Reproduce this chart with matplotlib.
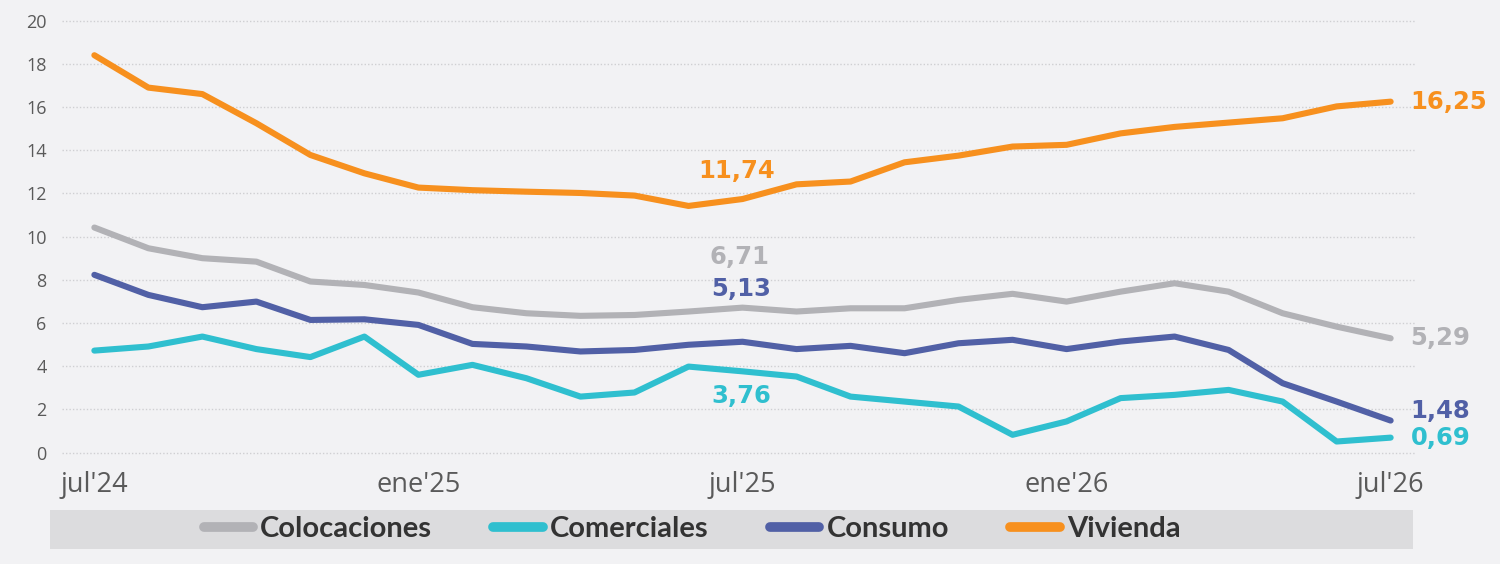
import matplotlib
matplotlib.use("Agg")
import matplotlib.pyplot as plt
from matplotlib.patches import Rectangle

months = list(range(25))
tick_pos = [0, 6, 12, 18, 24]
tick_labels = ["jul'24", "ene'25", "jul'25", "ene'26", "jul'26"]

colocaciones = [10.42, 9.46, 9.0, 8.84, 7.92, 7.76, 7.41, 6.73, 6.45, 6.33, 6.37, 6.53,
                6.71, 6.53, 6.68, 6.68, 7.07, 7.35, 6.99, 7.45, 7.84, 7.45, 6.45, 5.83, 5.29]
comerciales = [4.72, 4.91, 5.37, 4.79, 4.42, 5.37, 3.6, 4.06, 3.44, 2.59, 2.78, 3.98,
               3.76, 3.52, 2.59, 2.36, 2.13, 0.82, 1.44, 2.52, 2.67, 2.9, 2.36, 0.51, 0.69]
consumo = [8.23, 7.3, 6.73, 6.99, 6.14, 6.17, 5.91, 5.03, 4.91, 4.68, 4.75, 4.99,
           5.13, 4.79, 4.94, 4.6, 5.06, 5.22, 4.79, 5.14, 5.37, 4.75, 3.21, 2.36, 1.48]
vivienda = [18.4, 16.9, 16.6, 15.25, 13.78, 12.93, 12.27, 12.15, 12.08, 12.02, 11.9, 11.42,
            11.74, 12.42, 12.55, 13.44, 13.75, 14.17, 14.25, 14.78, 15.08, 15.28, 15.48, 16.03, 16.25]

names = ["Colocaciones", "Comerciales", "Consumo", "Vivienda"]
colors = ["#b2b2b6", "#2fbfcf", "#5160a6", "#f7901e"]
series = [colocaciones, comerciales, consumo, vivienda]

bg = "#f2f2f4"
fig = plt.figure(figsize=(15, 5.64), dpi=100, facecolor=bg)
ax = fig.add_axes([0.0413, 0.19, 0.902, 0.781], facecolor=bg)

for vals, name, col in zip(series, names, colors):
    ax.plot(months, vals, color=col, lw=4.4, label=name, solid_capstyle="round", solid_joinstyle="round")

ax.set_xlim(-0.6, 24.45)
ax.set_ylim(-0.2, 20.2)
ax.set_yticks(range(0, 21, 2))
ax.set_xticks(tick_pos)
ax.set_xticklabels(tick_labels)
ax.grid(axis="y", color="#cfcfd2", ls=(0, (1, 1.5)), lw=1.0)
ax.set_axisbelow(True)
for s in ax.spines.values():
    s.set_visible(False)
ax.tick_params(axis="both", length=0, colors="#5a5a5a", labelsize=13)
ax.tick_params(axis="y", pad=11)
ax.tick_params(axis="x", pad=10)
for lbl in ax.get_xticklabels() + ax.get_yticklabels():
    lbl.set_family("Open Sans")
for lbl in ax.get_xticklabels():
    lbl.set_fontsize(19.5)

# labels in the middle (jul'25)
mid = 12
lab = dict(fontsize=17.5, fontweight="bold", family="DejaVu Sans", ha="center", va="center",
           textcoords="offset pixels")
ax.annotate("11,74", (mid, vivienda[mid]), xytext=(-6, 28), color=colors[3], **lab)
ax.annotate("6,71", (mid, colocaciones[mid]), xytext=(-3, 51), color=colors[0], **lab)
ax.annotate("5,13", (mid, consumo[mid]), xytext=(-1, 53), color=colors[2], **lab)
ax.annotate("3,76", (mid, comerciales[mid]), xytext=(-1, -25), color=colors[1], **lab)

# labels at the end
end = 24
lab_end = dict(fontsize=17.5, fontweight="bold", family="DejaVu Sans", ha="left", va="center",
               textcoords="offset pixels")
ax.annotate("16,25", (end, vivienda[end]), xytext=(20, 0), color=colors[3], **lab_end)
ax.annotate("5,29", (end, colocaciones[end]), xytext=(20, 0), color=colors[0], **lab_end)
ax.annotate("1,48", (end, consumo[end]), xytext=(20, 10), color=colors[2], **lab_end)
ax.annotate("0,69", (end, comerciales[end]), xytext=(20, 0), color=colors[1], **lab_end)

# legend box
fig.patches.append(Rectangle((50 / 1500, 1 - 549 / 564), 1363 / 1500, 39 / 564,
                             transform=fig.transFigure, facecolor="#dcdcde", edgecolor="none"))
leg = fig.legend(loc="center", bbox_to_anchor=(692 / 1500, 1 - 529 / 564), ncol=4, frameon=False,
                 handlelength=1.7, handletextpad=0.24, columnspacing=2.1,
                 prop={"family": ["Lato", "DejaVu Sans"], "weight": "bold", "size": 21})
for t in leg.get_texts():
    t.set_color("#333333")
for h in leg.legend_handles:
    h.set_linewidth(7)

fig.savefig("out.png", dpi=100, facecolor=bg)
